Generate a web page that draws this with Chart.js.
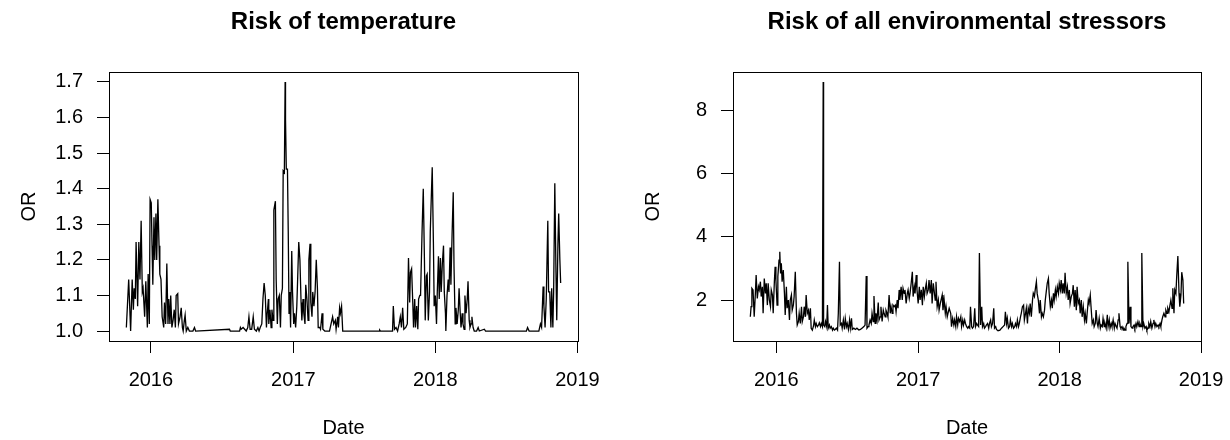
<!DOCTYPE html>
<html>
<head>
<meta charset="utf-8">
<script src="https://cdn.jsdelivr.net/npm/chart.js@4.4.0/dist/chart.umd.min.js"></script>
<style>
  html, body { margin: 0; padding: 0; background: #fff; }
  #wrap { position: relative; width: 1230px; height: 440px; }
  canvas { position: absolute; top: 0; }
  #left { left: 0; }
  #right { left: 615px; }
</style>
</head>
<body>
<div id="wrap">
  <canvas id="left" width="615" height="440"></canvas>
  <canvas id="right" width="615" height="440"></canvas>
</div>
<script>
// days are counted from 2016-01-01

// risk of temperature
const tempDays = [
  -63, -57, -52, -48, -45, -43, -40, -38, -34, -31,
  -28, -25, -22, -20, -16, -13, -9, -7, -4, -2,
  1, 3, 5, 8, 10, 13, 15, 18, 21, 23,
  26, 29, 33, 35, 38, 41, 44, 46, 49, 51,
  54, 57, 60, 63, 65, 69, 71, 75, 78, 81,
  83, 86, 88, 91, 95, 99, 108, 112, 115, 202,
  204, 228, 230, 232, 237, 241, 245, 249, 252, 255,
  259, 263, 266, 271, 275, 278, 281, 285, 288, 291,
  294, 297, 299, 302, 303, 306, 309, 311, 314, 316,
  320, 322, 325, 327, 330, 333, 335, 338, 340, 343,
  345, 346, 348, 351, 353, 355, 357, 359, 362, 364,
  367, 369, 372, 375, 377, 380, 383, 386, 388, 391,
  393, 396, 398, 401, 404, 406, 409, 411, 414, 416,
  419, 422, 425, 428, 430, 434, 436, 440, 442, 447,
  459, 467, 470, 474, 476, 480, 482, 485, 487, 490,
  493, 587, 588, 590, 621, 623, 626, 630, 634, 638,
  641, 644, 647, 650, 655, 659, 662, 665, 667, 670,
  673, 675, 678, 680, 683, 686, 688, 691, 693, 697,
  700, 703, 705, 708, 710, 713, 716, 718, 721, 723,
  726, 728, 731, 734, 736, 739, 741, 744, 746, 749,
  752, 754, 757, 758, 761, 764, 766, 769, 771, 774,
  777, 779, 782, 784, 787, 790, 792, 795, 797, 800,
  802, 805, 807, 810, 813, 815, 818, 820, 823, 825,
  828, 831, 837, 841, 844, 857, 860, 965, 968, 972,
  997, 1001, 1004, 1008, 1010, 1013, 1016, 1020, 1022, 1025,
  1028, 1030, 1033, 1035, 1038, 1041, 1043, 1046, 1048, 1051,
  1053
];
const tempOR = [
  1.01, 1.145, 1.0, 1.145, 1.06, 1.12, 1.09, 1.25, 1.07, 1.25,
  1.145, 1.31, 1.11, 1.12, 1.04, 1.14, 1.01, 1.16, 1.02, 1.37,
  1.36, 1.24, 1.13, 1.32, 1.20, 1.33, 1.20, 1.37, 1.24, 1.16,
  1.145, 1.04, 1.01, 1.08, 1.02, 1.19, 1.02, 1.09, 1.02, 1.10,
  1.01, 1.03, 1.06, 1.01, 1.10, 1.105, 1.02, 1.04, 1.065, 1.01,
  1.00, 1.03, 1.045, 1.00, 1.01, 1.00, 1.00, 1.01, 1.00, 1.005,
  1.00, 1.00, 1.01, 1.005, 1.01, 1.005, 1.00, 1.01, 1.04, 1.005,
  1.005, 1.04, 1.005, 1.00, 1.01, 1.00, 1.01, 1.02, 1.09, 1.135,
  1.10, 1.01, 1.05, 1.09, 1.02, 1.06, 1.01, 1.06, 1.03, 1.34,
  1.365, 1.145, 1.02, 1.09, 1.10, 1.01, 1.10, 1.12, 1.45, 1.445,
  1.70, 1.595, 1.455, 1.455, 1.28, 1.05, 1.11, 1.01, 1.225, 1.11,
  1.02, 1.05, 1.01, 1.07, 1.14, 1.25, 1.20, 1.08, 1.03, 1.09,
  1.05, 1.02, 1.13, 1.09, 1.03, 1.20, 1.245, 1.08, 1.04, 1.11,
  1.07, 1.11, 1.20, 1.12, 1.01, 1.01, 1.005, 1.05, 1.005, 1.00,
  1.00, 1.04, 1.02, 1.03, 1.005, 1.04, 1.01, 1.065, 1.05, 1.07,
  1.00, 1.00, 1.003, 1.00, 1.00, 1.07, 1.005, 1.01, 1.00, 1.02,
  1.04, 1.01, 1.065, 1.005, 1.01, 1.02, 1.205, 1.08, 1.165, 1.175,
  1.08, 1.01, 1.09, 1.01, 1.07, 1.005, 1.09, 1.10, 1.10, 1.285,
  1.40, 1.20, 1.03, 1.155, 1.16, 1.03, 1.11, 1.28, 1.39, 1.46,
  1.25, 1.07, 1.10, 1.02, 1.11, 1.21, 1.09, 1.205, 1.11, 1.19,
  1.24, 1.11, 1.05, 1.00, 1.10, 1.145, 1.11, 1.235, 1.13, 1.27,
  1.39, 1.18, 1.02, 1.065, 1.02, 1.06, 1.12, 1.05, 1.01, 1.05,
  1.02, 1.005, 1.10, 1.05, 1.09, 1.14, 1.03, 1.01, 1.02, 1.04,
  1.01, 1.00, 1.00, 1.01, 1.00, 1.005, 1.00, 1.00, 1.01, 1.00,
  1.00, 1.02, 1.01, 1.125, 1.07, 1.01, 1.09, 1.31, 1.11, 1.11,
  1.01, 1.12, 1.01, 1.11, 1.415, 1.165, 1.03, 1.245, 1.33, 1.20,
  1.135
];

// risk of all environmental stressors
const allDays = [
  -67, -65, -63, -60, -57, -54, -52, -49, -46, -44,
  -41, -39, -36, -34, -31, -28, -26, -23, -21, -18,
  -15, -13, -10, -8, -5, -3, -1, 2, 4, 7,
  9, 11, 13, 15, 18, 21, 23, 26, 28, 31,
  34, 36, 39, 41, 44, 46, 49, 52, 54, 57,
  59, 62, 65, 67, 70, 72, 75, 77, 80, 83,
  85, 88, 90, 93, 96, 98, 101, 103, 106, 109,
  111, 114, 116, 119, 121, 122, 125, 127, 130, 132,
  134, 137, 139, 142, 145, 147, 150, 152, 155, 158,
  160, 163, 165, 168, 170, 173, 176, 178, 181, 183,
  186, 189, 191, 194, 196, 200, 204, 208, 213, 217,
  221, 226, 229, 232, 234, 237, 239, 242, 245, 247,
  250, 252, 255, 257, 260, 263, 265, 268, 270, 273,
  276, 278, 281, 283, 286, 288, 291, 294, 296, 299,
  301, 304, 307, 309, 312, 314, 317, 319, 322, 325,
  327, 330, 332, 335, 338, 340, 343, 345, 348, 351,
  353, 356, 358, 361, 363, 366, 369, 371, 374, 377,
  379, 382, 384, 387, 389, 392, 394, 397, 400, 402,
  405, 407, 410, 412, 415, 418, 420, 423, 425, 428,
  430, 433, 436, 438, 441, 443, 446, 450, 452, 455,
  458, 460, 463, 465, 468, 470, 473, 476, 478, 481,
  483, 486, 488, 491, 494, 496, 499, 501, 504, 506,
  509, 512, 514, 517, 519, 522, 524, 527, 530, 532,
  535, 537, 540, 542, 545, 548, 550, 553, 555, 558,
  561, 563, 566, 568, 572, 577, 581, 585, 589, 591,
  594, 596, 599, 602, 604, 607, 609, 612, 615, 617,
  620, 622, 625, 627, 630, 632, 635, 638, 640, 643,
  645, 648, 650, 653, 655, 658, 661, 663, 666, 668,
  671, 673, 676, 679, 681, 684, 686, 689, 692, 694,
  697, 699, 702, 704, 707, 710, 712, 715, 717, 720,
  722, 725, 728, 730, 733, 735, 738, 740, 743, 745,
  748, 751, 753, 756, 758, 761, 764, 766, 769, 771,
  774, 776, 779, 782, 784, 787, 789, 792, 795, 797,
  800, 802, 805, 807, 810, 812, 815, 818, 820, 823,
  825, 828, 830, 833, 836, 838, 841, 843, 846, 848,
  851, 854, 856, 859, 861, 864, 866, 869, 872, 874,
  877, 879, 882, 884, 887, 889, 892, 895, 897, 900,
  902, 905, 907, 910, 913, 915, 918, 920, 923, 925,
  928, 930, 933, 936, 938, 941, 943, 946, 948, 951,
  954, 956, 959, 961, 964, 966, 969, 972, 974, 977,
  979, 982, 985, 987, 990, 992, 995, 997, 1000, 1003,
  1005, 1008, 1010, 1013, 1015, 1018, 1021, 1023, 1026, 1028,
  1031, 1033, 1036, 1039, 1041, 1044, 1046, 1049, 1051
];
const allOR = [
  1.47, 1.79, 2.37, 2.32, 1.47, 2.21, 2.79, 2.05, 2.42, 2.32,
  2.58, 2.11, 2.42, 1.58, 2.68, 2.21, 2.53, 1.84, 2.53, 2.00,
  1.79, 2.32, 2.16, 1.58, 2.58, 3.05, 2.63, 1.84, 2.74, 3.26,
  3.53, 2.84, 3.16, 2.58, 2.95, 2.21, 1.53, 2.42, 1.74, 2.00,
  1.37, 2.00, 2.16, 1.68, 1.84, 2.11, 2.89, 1.58, 1.21, 1.32,
  1.58, 1.26, 1.79, 1.32, 1.47, 1.79, 1.47, 2.16, 1.58, 1.68,
  1.37, 1.74, 1.11, 1.05, 1.18, 1.37, 1.16, 1.26, 1.16, 1.21,
  1.28, 1.16, 1.26, 1.16, 8.89, 1.21, 1.16, 1.32, 1.16, 1.84,
  1.11, 1.21, 1.11, 1.16, 1.05, 1.11, 1.05, 1.07, 1.11, 1.05,
  1.58, 3.21, 1.21, 1.26, 1.11, 1.37, 1.07, 1.42, 1.16, 1.26,
  1.07, 1.37, 1.11, 1.42, 1.07, 1.11, 1.07, 1.11, 1.05, 1.07,
  1.11, 1.16, 1.21, 2.76, 1.11, 1.16, 1.21, 1.37, 1.26, 1.58,
  1.32, 2.13, 1.26, 1.58, 1.37, 1.92, 1.37, 1.47, 1.79, 1.32,
  1.68, 1.58, 1.47, 1.68, 1.58, 1.47, 2.16, 1.58, 1.79, 1.58,
  1.84, 1.79, 1.84, 1.63, 2.00, 1.74, 2.32, 2.00, 2.42, 2.00,
  2.37, 2.21, 2.32, 1.89, 2.21, 2.32, 2.05, 2.21, 2.53, 2.89,
  2.11, 2.42, 2.21, 2.79, 2.32, 1.89, 2.42, 2.00, 2.32, 1.84,
  2.42, 2.11, 2.32, 2.53, 2.21, 2.32, 2.63, 2.21, 2.63, 1.89,
  2.53, 2.32, 2.00, 2.58, 1.79, 2.00, 1.68, 1.89, 2.00, 2.16,
  1.68, 2.00, 1.58, 1.79, 1.47, 1.58, 1.74, 1.58, 1.16, 1.42,
  1.21, 1.37, 1.16, 1.47, 1.21, 1.42, 1.32, 1.47, 1.16, 1.37,
  1.21, 1.37, 1.26, 1.16, 1.11, 1.16, 1.11, 1.79, 1.16, 1.11,
  1.16, 1.74, 1.16, 1.26, 1.21, 1.16, 3.49, 1.21, 1.79, 1.16,
  1.26, 1.11, 1.16, 1.21, 1.26, 1.11, 1.26, 1.37, 1.16, 1.26,
  1.74, 1.11, 1.16, 1.07, 1.03, 1.05, 1.11, 1.16, 1.21, 1.63,
  1.26, 1.42, 1.11, 1.16, 1.37, 1.16, 1.26, 1.11, 1.16, 1.26,
  1.16, 1.37, 1.16, 1.26, 1.47, 1.58, 1.79, 1.84, 1.37, 1.58,
  1.74, 1.26, 1.74, 1.58, 1.89, 1.47, 2.00, 2.21, 2.11, 2.32,
  2.58, 2.21, 2.00, 1.58, 2.00, 1.47, 1.58, 1.47, 1.68, 2.00,
  2.32, 2.53, 2.68, 2.21, 1.79, 2.00, 1.74, 2.21, 2.00, 2.32,
  2.11, 2.42, 2.21, 2.53, 2.32, 2.63, 2.21, 2.53, 2.21, 2.86,
  2.21, 2.42, 2.00, 2.32, 1.89, 2.11, 2.21, 2.47, 1.79, 2.32,
  1.68, 2.42, 1.89, 2.00, 1.58, 2.00, 1.47, 1.79, 1.37, 1.58,
  1.26, 1.58, 2.00, 1.89, 2.16, 1.79, 1.26, 1.37, 1.16, 1.26,
  1.68, 1.26, 1.16, 1.42, 1.11, 1.21, 1.16, 1.42, 1.16, 1.26,
  1.11, 1.53, 1.16, 1.37, 1.11, 1.26, 1.16, 1.37, 1.11, 1.26,
  1.16, 1.11, 1.37, 1.58, 1.16, 1.11, 1.16, 1.05, 1.11, 1.05,
  1.16, 1.26, 3.21, 1.26, 1.79, 1.16, 1.11, 1.16, 1.21, 1.11,
  1.26, 1.16, 1.32, 1.16, 1.26, 1.16, 3.49, 1.16, 1.26, 1.11,
  1.16, 1.05, 1.11, 1.26, 1.16, 1.32, 1.11, 1.26, 1.37, 1.16,
  1.26, 1.16, 1.21, 1.16, 1.26, 1.16, 1.37, 1.47, 1.58, 1.47,
  1.68, 1.58, 1.74, 1.63, 1.79, 2.00, 1.74, 2.37, 1.58, 2.32,
  2.21, 2.74, 3.39, 2.21, 1.79, 2.16, 2.88, 2.63, 1.89
];

// axis ticks
const yearTicks = [0, 366, 731, 1096];
const yearLabels = ['2016', '2017', '2018', '2019'];
const tempTicks = [1.0, 1.1, 1.2, 1.3, 1.4, 1.5, 1.6, 1.7];
const tempTickLabels = ['1.0', '1.1', '1.2', '1.3', '1.4', '1.5', '1.6', '1.7'];
const allTicks = [2, 4, 6, 8];
const allTickLabels = ['2', '4', '6', '8'];

const FONT = "'Liberation Sans', Arial, Helvetica, sans-serif";

// box round the plot region, like R's box()
const plotBox = {
  id: 'plotBox',
  afterDraw(chart) {
    const a = chart.chartArea;
    const ctx = chart.ctx;
    ctx.save();
    ctx.strokeStyle = '#000';
    ctx.lineWidth = 1;
    ctx.strokeRect(a.left + 0.5, a.top + 0.5, a.right - a.left, a.bottom - a.top);
    ctx.restore();
  }
};

function makePanel(id, title, days, values, cfg) {
  const points = days.map((d, i) => ({ x: d, y: values[i] }));
  return new Chart(document.getElementById(id).getContext('2d'), {
    type: 'line',
    data: {
      datasets: [{
        data: points,
        borderColor: '#000',
        borderWidth: 1.3,
        pointRadius: 0,
        tension: 0,
        fill: false
      }]
    },
    options: {
      responsive: false,
      animation: false,
      devicePixelRatio: 1,
      events: [],
      layout: { padding: { top: 0, left: 0, bottom: 0, right: cfg.padRight } },
      plugins: {
        legend: { display: false },
        tooltip: { enabled: false },
        title: {
          display: true,
          text: title,
          fullSize: false,
          color: '#000',
          font: { family: FONT, size: 24, weight: 'bold' },
          padding: { top: 8, bottom: 35.2 }
        }
      },
      scales: {
        x: {
          type: 'linear',
          min: cfg.xMin,
          max: cfg.xMax,
          afterBuildTicks: s => { s.ticks = yearTicks.map(v => ({ value: v })); },
          afterFit: s => {
            s.height = 99;
            // keep the plot box where R puts it, the last label may hang over
            s.paddingLeft = 0;
            s.paddingRight = 0;
          },
          grid: { drawOnChartArea: false, drawTicks: true, tickLength: 12, color: '#000', lineWidth: 1 },
          border: { display: false },
          ticks: {
            autoSkip: false,
            maxRotation: 0,
            padding: 15,
            color: '#000',
            font: { family: FONT, size: 20 },
            callback: (v, i) => yearLabels[i]
          },
          title: {
            display: true,
            text: 'Date',
            color: '#000',
            font: { family: FONT, size: 20 },
            padding: { top: 0, bottom: 0 }
          }
        },
        y: {
          min: cfg.yMin,
          max: cfg.yMax,
          afterBuildTicks: s => { s.ticks = cfg.yTicks.map(v => ({ value: v })); },
          afterFit: s => { s.width = cfg.areaLeft; },
          grid: { drawOnChartArea: false, drawTicks: true, tickLength: 12, color: '#000', lineWidth: 1 },
          border: { display: false },
          ticks: {
            autoSkip: false,
            padding: 14,
            color: '#000',
            font: { family: FONT, size: 20 },
            callback: (v, i) => cfg.yLabels[i]
          },
          title: {
            display: true,
            text: 'OR',
            color: '#000',
            font: { family: FONT, size: 20 },
            padding: { top: cfg.orOffset, bottom: 0 }
          }
        }
      }
    },
    plugins: [plotBox]
  });
}

makePanel('left', 'Risk of temperature', tempDays, tempOR, {
  xMin: -107.6, xMax: 1097.6,
  yMin: 0.972, yMax: 1.728,
  yTicks: tempTicks, yLabels: tempTickLabels,
  areaLeft: 109, padRight: 37, orOffset: 17.5
});

makePanel('right', 'Risk of all environmental stressors', allDays, allOR, {
  xMin: -111.7, xMax: 1095.7,
  yMin: 0.705, yMax: 9.21,
  yTicks: allTicks, yLabels: allTickLabels,
  areaLeft: 118, padRight: 29, orOffset: 26
});
</script>
</body>
</html>
